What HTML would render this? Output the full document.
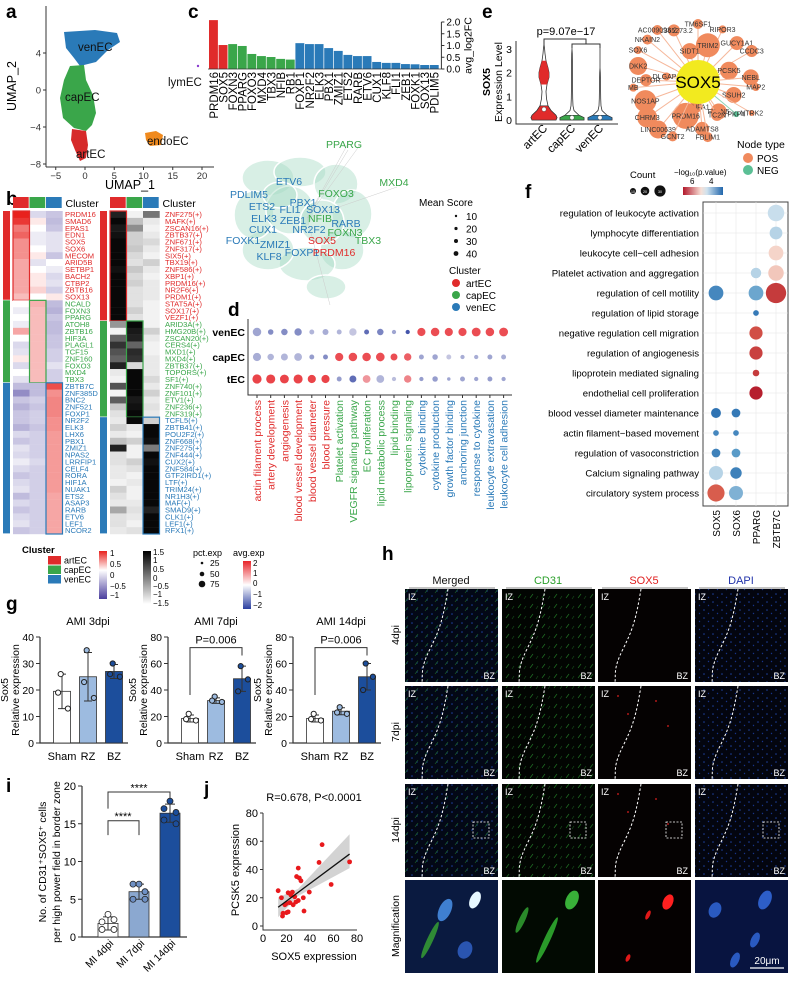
<!DOCTYPE html>
<html><head><meta charset="utf-8"><style>
html,body{margin:0;padding:0;background:#fff}
svg{display:block;font-family:"Liberation Sans",Arial,sans-serif}
</style></head><body>
<svg id="fig" width="790" height="983" viewBox="0 0 790 983" xmlns="http://www.w3.org/2000/svg">
<defs>
<pattern id="pDapi" width="9" height="8" patternUnits="userSpaceOnUse"><rect width="9" height="8" fill="#03050f"/><circle cx="2" cy="2" r="0.8" fill="#1d3f9a"/><circle cx="6.5" cy="5.5" r="0.7" fill="#17338a"/></pattern>
<pattern id="pCd31" width="12" height="10" patternUnits="userSpaceOnUse"><rect width="12" height="10" fill="#020502"/><line x1="2" y1="8" x2="5" y2="4" stroke="#1f6e24" stroke-width="0.7"/><line x1="8" y1="9" x2="10" y2="6" stroke="#18561c" stroke-width="0.6"/></pattern>
<pattern id="pMerge" width="10" height="9" patternUnits="userSpaceOnUse"><rect width="10" height="9" fill="#030816"/><circle cx="2" cy="2" r="0.8" fill="#1d3f9a"/><circle cx="7" cy="6" r="0.7" fill="#1d3f9a"/><line x1="5" y1="8" x2="8" y2="4" stroke="#1f6e24" stroke-width="0.6"/></pattern>
<linearGradient id="gHeat" x1="0" y1="0" x2="0" y2="1"><stop offset="0" stop-color="#e8211d"/><stop offset="0.4" stop-color="#ffffff"/><stop offset="1" stop-color="#4b3f9e"/></linearGradient>
<linearGradient id="gGray" x1="0" y1="0" x2="0" y2="1"><stop offset="0" stop-color="#000"/><stop offset="1" stop-color="#fff"/></linearGradient>
<linearGradient id="gAvg" x1="0" y1="0" x2="0" y2="1"><stop offset="0" stop-color="#e8242a"/><stop offset="0.5" stop-color="#ffffff"/><stop offset="1" stop-color="#2b3fa0"/></linearGradient>
<linearGradient id="gP" x1="0" y1="0" x2="1" y2="0"><stop offset="0" stop-color="#b2182b"/><stop offset="0.45" stop-color="#f7e0d6"/><stop offset="0.6" stop-color="#cfe2ee"/><stop offset="1" stop-color="#2166ac"/></linearGradient>
</defs>

<g font-weight="bold" font-size="19">
<text x="6" y="18">a</text>
<text x="6" y="205">b</text>
<text x="188" y="18">c</text>
<text x="228" y="316">d</text>
<text x="482" y="18">e</text>
<text x="525" y="198">f</text>
<text x="6" y="610">g</text>
<text x="382" y="560">h</text>
<text x="6" y="792">i</text>
<text x="204" y="795">j</text>
</g>

<g id="pa">
<polygon points="64,32 95,30 117,33 120,42 108,50 96,62 80,66 74,58 66,48" fill="#2a7ab8"/>
<polygon points="70,66 84,65 86,80 93,95 96,113 92,125 86,131 74,128 63,118 60,98 64,80" fill="#3aa64a"/>
<polygon points="72,129 86,131 88,145 86,158 80,161 75,150 71,140" fill="#d62a2a"/>
<polygon points="145,133 156,131 163,135 161,145 150,146 146,140" fill="#f08a1e"/>
<circle cx="198" cy="66" r="1.2" fill="#8a3ccf"/>
<g font-size="11.5" fill="#111">
<text x="78" y="51">venEC</text>
<text x="65" y="101">capEC</text>
<text x="147" y="145">endoEC</text>
<text x="76" y="158">artEC</text>
<text x="168" y="86">lymEC</text>
</g>
<line x1="46" y1="6" x2="46" y2="167" stroke="#333"/>
<line x1="46" y1="167" x2="214" y2="167" stroke="#333"/>
<g id="paTicks" font-size="9.5" fill="#333"></g>
<text x="130" y="189" font-size="12.5" text-anchor="middle">UMAP_1</text>
<text transform="translate(16,86) rotate(-90)" font-size="12.5" text-anchor="middle">UMAP_2</text>
</g>

<g id="pb"></g>
<g id="pc"></g>
<g id="pnet"></g>
<g id="pd"></g>
<g id="pe"></g>
<g id="pe2"></g>
<g id="pf"></g>
<g id="pg"></g>
<g id="ph"></g>
<g id="pi"></g>
<g id="pj"></g>
</svg>
<script>
// ---------- data ----------
const umapXTicks=[-5,0,5,10,15,20];
const umapYTicks=[4,0,-4,-8];

const hmLeftGenes=["PRDM16","SMAD6","EPAS1","EDN1","SOX5","SOX6","MECOM","ARID5B","SETBP1","BACH2","CTBP2","ZBTB16","SOX13","NCALD","FOXN3","PPARG","ATOH8","ZBTB16","HIF3A","PLAGL1","TCF15","ZNF160","FOXO3","MXD4","TBX3","ZBTB7C","ZNF385D","BNC2","ZNF521","FOXP1","NR2F2","ELK3","LHX6","PBX1","ZMIZ1","NPAS2","LRRFIP1","CELF4","RORA","HIF1A","NUAK1","ETS2","ASAP3","RARB","ETV6","LEF1","NCOR2"];
const hmLeftGroup=[13,12,22];
const hmLeftArt=[1,0.9,0.6,0.7,0.5,0.5,0.5,0.4,0.4,0.4,0.4,0.4,0.3, 0,-0.1,0,-0.1,0.4,0,-0.2,-0.15,0.1,-0.2,0,-0.15, -0.35,-0.6,-0.3,-0.4,-0.3,-0.3,-0.4,-0.2,-0.3,-0.15,-0.2,-0.1,-0.2,-0.3,-0.2,-0.15,-0.35,-0.2,-0.3,-0.2,-0.15,-0.3];
const hmLeftCap=[-0.2,0.1,0,-0.1,-0.1,0,0.1,-0.15,0,0.1,0.1,0.2,0, 0.35,0.3,0.3,0.3,0.3,0.3,0.3,0.3,0.3,0.3,0.3,0.3, -0.35,-0.35,-0.25,-0.3,-0.25,-0.25,-0.3,-0.25,-0.25,-0.25,-0.25,-0.2,-0.25,-0.25,-0.25,-0.25,-0.25,-0.25,-0.25,-0.25,-0.25,-0.25];
const hmLeftVen=[-0.3,-0.35,-0.3,-0.15,-0.15,-0.15,-0.3,0,-0.1,-0.2,-0.15,-0.25,0.1, -0.35,-0.4,-0.3,-0.35,-0.35,-0.3,-0.3,-0.25,-0.25,-0.15,-0.25,-0.25, 0.8,0.5,0.55,0.55,0.55,0.5,0.5,0.45,0.45,0.45,0.45,0.45,0.45,0.45,0.45,0.45,0.4,0.4,0.4,0.4,0.4,0.4];

const hmRightTFs=["ZNF275(+)","MAFK(+)","ZSCAN16(+)","ZBTB37(+)","ZNF671(+)","ZNF317(+)","SIX5(+)","TBX19(+)","ZNF586(+)","XBP1(+)","PRDM16(+)","NR2F6(+)","PRDM1(+)","STAT5A(+)","SOX17(+)","VEZF1(+)","ARID3A(+)","HMG20B(+)","ZSCAN20(+)","CERS4(+)","MXD1(+)","MXD4(+)","ZBTB37(+)","TOPORS(+)","SF1(+)","ZNF740(+)","ZNF101(+)","ETV1(+)","ZNF236(+)","ZNF319(+)","TCFL5(+)","ZBTB41(+)","POU2F2(+)","ZNF668(+)","ZNF275(+)","ZNF444(+)","CUX2(+)","ZNF584(+)","GTF2IRD1(+)","LTF(+)","TRIM24(+)","NR1H3(+)","MAF(+)","SMAD9(+)","CLK1(+)","LEF1(+)","RFX1(+)"];
const hmRightGroup=[16,14,17];
const hmRightArt=[1.1,1.4,1.2,1.3,1.4,1.4,1.4,1.4,1.3,1.4,1.4,1.4,1.4,1.4,1.4,1.4, -0.3,-1.4,0.3,0.9,0.5,0.3,1.1,-1.3,-1.4,0.5,-1.4,0.4,-0.9,-1.2,-1.3, -1,-1.3,-0.8,1.1,-1.2,-1.2,-1.3,-1.3,-1.4,-1,-1.2,-1.3,-0.5,-1.2,-1.2,-1.3];
const hmRightCap=[-1.4,-0.8,-0.2,-1,-1,-0.9,-1.1,-1.2,-0.9,-1.1,-1,-1.2,-1.2,-1.2,-1,-1.2, 1.4,1.2,1.1,0.3,1,0.9,-1.1,1.4,1.4,1.4,1.4,1.2,1.3,1.4,1.4, -1.3,-1.4,-1,-1.4,-1.4,-1,-1.2,-1.4,-1.3,-1.4,-1.4,-1.3,-1.2,-1.3,-1.4,-1.2];
const hmRightVen=[0.1,-1.3,-1.4,-1.3,-1.1,-1.3,-1.4,-1,-1.3,-1.4,-1.3,-1.3,-1.3,-1.4,-1.4,-1.4, -1.4,-1,-1.3,-1.4,-1.4,-1.3,-1.3,-1.3,-1.1,-1.3,-1,-1.3,-1.2,-1.3,-1, 1.4,1.4,1.3,0,1.4,1.3,1.4,1.4,1.4,1.4,1.4,1.4,1.1,1.4,1.4,1.4];

const tfNames=["PRDM16","SOX5","FOXN3","PPARG","FOXO3","MXD4","TBX3","NFIB","RB1","FOXP1","NR2F2","ELK3","PBX1","ZMIZ1","ETS2","RARB","ETV6","CUX1","KLF8","FLI1","ZEB1","FOXK1","SOX13","PDLIM5"];
const tfLog2FC=[2.08,1.02,1.06,0.98,0.64,0.55,0.51,0.43,0.4,1.1,1.06,1.06,0.89,0.77,0.6,0.55,0.55,0.3,0.26,0.26,0.21,0.2,0.17,0.17];
const tfCluster=["art","art","cap","cap","cap","cap","cap","cap","cap","ven","ven","ven","ven","ven","ven","ven","ven","ven","ven","ven","ven","ven","ven","ven"];
const fcTicks=[0,0.5,1,1.5,2];

const goTerms=["actin filament process","artery development","angiogenesis","blood vessel development","blood vessel diameter","blood pressure","Platelet activation","VEGFR signaling pathway","EC proliferation","lipid metabolic process","lipid binding","lipoprotein signaling","cytokine binding","cytokine production","growth factor binding","anchoring junction","response to cytokine","leukocyte extravasation","leukocyte cell adhesion"];
const goGroup=["art","art","art","art","art","art","cap","cap","cap","cap","cap","cap","ven","ven","ven","ven","ven","ven","ven"];
const dRows=["venEC","capEC","tEC"];
const venAvg=[-0.5,-0.8,-0.8,-0.8,-0.3,-0.4,-0.3,-0.1,-1.2,-0.9,-0.5,-1.5,1,1,1,1,1,1,1];
const venPct=[60,25,35,45,20,30,20,45,20,35,15,15,55,60,55,55,65,60,65];
const capAvg=[-0.4,-0.3,-0.3,-0.3,-0.6,-0.8,1,1,1,1,1,0.8,-0.5,-0.5,-0.1,-0.4,-0.4,-0.5,-0.4];
const capPct=[55,35,40,50,20,20,55,60,60,62,40,45,20,25,20,15,15,20,20];
const tecAvg=[1.1,1.1,1.1,1.1,1.1,1.1,-0.6,-1.2,0.2,-0.3,-0.2,0.4,-0.6,-0.6,-0.5,-0.5,-0.5,-0.6,-0.5];
const tecPct=[70,68,65,68,55,55,20,40,50,50,15,45,15,25,10,20,15,20,15];

const violinGroups=["artEC","capEC","venEC"];
const violinLevels=[0,0.1,0.2,0.4,0.6,0.9,1.2,1.5,1.8,2.0,2.2,2.5,2.8,3.0,3.2];
const violinArt=[12,13,12,7,4,2.5,2,3,5,5,4,2,1,0.6,0];
const violinCap=[12,12,7,2,1,0.7,0.6,0.5,0.5,0.5,0.4,0.4,0.3,0,0];
const violinVen=[12,12,7,2,1,0.7,0.6,0.5,0.4,0.3,0,0,0,0,0];
const violinMedian=[0.45,0.1,0.1];
const violinTicks=[0,1,2,3];

const netNodes=["AL365273.2","TM6SF1","RIPOR3","AC009093.2","TRIM2","GUCY1A1","NKAIN2","SIDT1","CCDC3","SOX6","PCSK5","NEBL","DKK2","DLGAP1","MAP2","SSUH2","MB","DEPTOR","NTRK2","NOS1AP","NDUFA1","FBLN5","PKP4","CHRM3","PRDM16","TC2N","ADAMTS8","LINC00639","GCNT2","FBLIM1"];
const netSize=[6,5,4,5,12,7,5,8,6,4,9,8,9,4,4,8,4,6,3,11,6,8,3,10,13,6,7,9,5,5];
const netType=["POS","POS","POS","POS","POS","POS","POS","POS","POS","POS","POS","POS","POS","POS","POS","POS","POS","POS","POS","POS","POS","POS","NEG","POS","POS","POS","POS","POS","POS","POS"];

const fTerms=["regulation of leukocyte activation","lymphocyte differentiation","leukocyte cell\u2212cell adhesion","Platelet activation and aggregation","regulation of cell motility","regulation of lipid storage","negative regulation cell migration","regulation of angiogenesis","lipoprotein mediated signaling","endothelial cell proliferation","blood vessel diameter maintenance","actin filament\u2212based movement","regulation of vasoconstriction","Calcium signaling pathway","circulatory system process"];
const fGenes=["SOX5","SOX6","PPARG","ZBTB7C"];
const fRow=[0,1,2,3,3,4,4,4,5,6,7,8,9,10,10,11,11,12,12,13,13,14,14];
const fCol=[3,3,3,2,3,0,2,3,2,2,2,2,2,0,1,0,1,0,1,0,1,0,1];
const fCount=[25,15,20,10,22,20,20,38,3,16,16,4,16,9,7,3,3,7,7,18,12,27,18];
const fLogP=[4.4,4.3,5.3,4.3,5.4,3.5,3.9,6.8,3.3,6.5,6.7,6.8,7.2,3.2,3.3,3.5,3.5,3.4,3.8,4.3,3.4,6.3,4.0];

const gGroups=["Sham","RZ","BZ"];
const g3Mean=[19.5,25,27], g3Pts=[[26,13,19],[35,17,23],[30,25,26]];
const g7Mean=[18.5,32,48.5], g7Pts=[[22,17,18],[35,31,32],[58,48,39]];
const g14Mean=[18.5,24,50], g14Pts=[[22,17,18],[27,22,23],[60,50,40]];

const iGroups=["MI 4dpi","MI 7dpi","MI 14dpi"];
const iMean=[1.8,6,16.4];
const iPts=[[3,2,1,1,2.3],[7,7,5,5,6],[18,17,16.5,15.5,15]];
const iTicks=[0,5,10,15,20];

const jSox5=[12.9,15.7,16.6,18.6,20,21.4,21.4,22.9,23.7,25,25.7,27,28,28.6,30,30,30.9,32.3,34.3,34.9,39.4,47.7,50.3,58,73.7,20,17];
const jPcsk5=[25,20,7,15,9.4,10,23.5,16.5,22,24,15,20.7,17,35,18,41,34,32,20,10.6,24,45,57.6,29.4,45.4,16,9];
const jTicks=[0,20,40,60,80];

// ---------- helpers ----------
const NS="http://www.w3.org/2000/svg";
function mk(parent,tag,attrs,txt){const e=document.createElementNS(NS,tag);for(const k in attrs)e.setAttribute(k,attrs[k]);if(txt!==undefined)e.textContent=txt;parent.appendChild(e);return e;}
const CL={art:"#e02b2b",cap:"#3aa64a",ven:"#2a7ab8"};
function lerp(a,b,t){return a.map((v,i)=>Math.round(v+(b[i]-v)*t));}
function rgb(c){return "rgb("+c.join(",")+")";}
function heatCol(v){v=Math.max(-1,Math.min(1,v));return v>=0?rgb(lerp([255,255,255],[232,33,29],v)):rgb(lerp([255,255,255],[75,63,158],-v));}
function grayCol(v){const t=(Math.max(-1.5,Math.min(1.5,v))+1.5)/3;const g=Math.round(250*(1-t));return rgb([g,g,g]);}
function avgCol(v){v=Math.max(-2,Math.min(2,v))/2;return v>=0?rgb(lerp([245,240,245],[232,36,42],Math.min(1,v*0.9+0.35))):rgb(lerp([245,240,245],[43,63,160],Math.min(1,-v*0.9+0.2)));}
function pCol(p){const stops=[[3,[33,102,172]],[3.8,[90,155,200]],[4.4,[200,222,236]],[5.2,[248,224,214]],[6.2,[220,100,80]],[7.3,[178,24,43]]];if(p<=stops[0][0])return rgb(stops[0][1]);for(let i=1;i<stops.length;i++){if(p<=stops[i][0]){const t=(p-stops[i-1][0])/(stops[i][0]-stops[i-1][0]);return rgb(lerp(stops[i-1][1],stops[i][1],t));}}return rgb(stops[stops.length-1][1]);}

// ---------- panel a ticks ----------
(function(){const g=document.getElementById("paTicks");
const ax=u=>85+u*5.85, ay=v=>90-v*9.25;
umapXTicks.forEach(t=>{const l=mk(g,"line",{x1:ax(t),x2:ax(t),y1:167,y2:170,stroke:"#333"});


const s=mk(g,"text",{x:ax(t),y:179,"text-anchor":"middle"},t<0?"\u2212"+(-t):t);

});
umapYTicks.forEach(t=>{const l=mk(g,"line",{x1:43,x2:46,y1:ay(t),y2:ay(t),stroke:"#333"});


const s=mk(g,"text",{x:41,y:ay(t)+3.5,"text-anchor":"end"},t<0?"\u2212"+(-t):t);

});})();

// ---------- panel b heatmaps ----------
(function(){const g=document.getElementById("pb");
const top=211,bot=534,n=47,rh=(bot-top)/n;
function heat(x0,ax0,labX,names,groups,a,c,v,colf,nm){
 const cw=16.5;
 ["art","cap","ven"].forEach((k,i)=>{const r=mk(g,"rect",{x:x0+i*cw,y:197,width:cw-0.8,height:11,fill:CL[k]});
 
 });
 const ct=mk(g,"text",{x:x0+3*cw+3,y:207,"font-size":10.5},"Cluster");
 
 
 let idx=0;
 groups.forEach((cnt,gi)=>{const key=["art","cap","ven"][gi];
  const ab=mk(g,"rect",{x:ax0,y:top+idx*rh,width:7,height:cnt*rh-0.6,fill:CL[key]});
  
  
  for(let r=0;r<cnt;r++,idx++){
   [a,c,v].forEach((arr,ci)=>{const cell=mk(g,"rect",{x:x0+ci*cw,y:top+idx*rh,width:cw+0.2,height:rh+0.2,fill:colf(arr[idx])});
   
   });
   const t=mk(g,"text",{x:labX,y:top+idx*rh+rh-0.8,"font-size":7.6,fill:CL[key]},names[idx]);
   
   
  }
  const bx=mk(g,"rect",{x:x0+gi*cw,y:top+(idx-cnt)*rh,width:cw,height:cnt*rh,fill:"none",stroke:CL[key],"stroke-width":1.2});
  
  
 });
}
heat(13,3,65,hmLeftGenes,hmLeftGroup,hmLeftArt,hmLeftCap,hmLeftVen,heatCol,'gene-heatmap');
heat(110,100,165,hmRightTFs,hmRightGroup,hmRightArt,hmRightCap,hmRightVen,grayCol,'regulon-heatmap');
const L=(el,n)=>{return el;};
L(mk(g,"text",{x:22,y:553,"font-size":9.5,"font-weight":"bold"},"Cluster"),'legend-cluster-title');
["artEC","capEC","venEC"].forEach((s,i)=>{const k=["art","cap","ven"][i];
 const r=mk(g,"rect",{x:48,y:556+i*9.5,width:13,height:8.5,fill:CL[k]});
 
 
 const t=mk(g,"text",{x:64,y:563.5+i*9.5,"font-size":9},s);
 
 });
L(mk(g,"rect",{x:99,y:551,width:8,height:48,fill:"url(#gHeat)"}),'legend-zscore-bar');
[["1",556],["0.5",567],["0",578],["\u22120.5",589],["\u22121",598]].forEach(d=>{const t=mk(g,"text",{x:110,y:d[1],"font-size":8},d[0]);
 
 });
L(mk(g,"rect",{x:143,y:551,width:8,height:53,fill:"url(#gGray)"}),'legend-auc-bar');
[["1.5",555],["1",563],["0.5",572],["0",581],["\u22120.5",589],["\u22121",597],["\u22121.5",606]].forEach(d=>{const t=mk(g,"text",{x:153,y:d[1],"font-size":8},d[0]);
 
 });
L(mk(g,"text",{x:193,y:556,"font-size":9},"pct.exp"),'legend-pct-title');
[[25,1.3,566],[50,2.3,577],[75,3.3,587]].forEach(d=>{const c=mk(g,"circle",{cx:202,cy:d[2]-3,r:d[1],fill:"#111"});
 
 
 const t=mk(g,"text",{x:210,y:d[2],"font-size":8.5},d[0]);
 
 });
L(mk(g,"text",{x:233,y:556,"font-size":9},"avg.exp"),'legend-avg-title');
L(mk(g,"rect",{x:243,y:561,width:8,height:48,fill:"url(#gAvg)"}),'legend-avg-bar');
[["2",566],["1",576],["0",586],["\u22121",597],["\u22122",608]].forEach(d=>{const t=mk(g,"text",{x:253,y:d[1],"font-size":8},d[0]);
 
 });
})();

// ---------- panel c bars ----------
(function(){const g=document.getElementById("pc");
const x0=209,step=9.6,base=69,k=23.5;
tfNames.forEach((n,i)=>{const h=tfLog2FC[i]*k;
 const r=mk(g,"rect",{x:x0+i*step,y:base-h,width:step-0.7,height:h,fill:CL[tfCluster[i]]});
 
 
 const t=mk(g,"text",{transform:`translate(${x0+i*step+step/2+4},${base+3}) rotate(-90)`,"text-anchor":"end","font-size":11.5},n);
 
 });
const ax=x0+tfNames.length*step+2;
const al=mk(g,"line",{x1:ax,x2:ax,y1:base,y2:base-2*k,stroke:"#333"});


fcTicks.forEach(t=>{const y=base-t*k;
 const l=mk(g,"line",{x1:ax,x2:ax+3,y1:y,y2:y,stroke:"#333"});
 
 
 const s=mk(g,"text",{x:ax+5,y:y+3.5,"font-size":10},t.toFixed(1));
 
 });
const tt=mk(g,"text",{transform:`translate(${ax+30},${base-k}) rotate(-90)`,"text-anchor":"middle","font-size":10.5},"avg_log2FC");


const bl=mk(g,"line",{x1:x0-1,x2:ax,y1:base,y2:base,stroke:"#333","stroke-width":0.8});


})();

// ---------- network c ----------
(function(){const g=document.getElementById("pnet");
const cx=307,cy=218;
const petals=[[268,178,26,18],[300,172,26,15],[336,184,22,20],[352,214,20,24],[342,250,22,20],[307,264,28,17],[268,250,26,20],[254,215,20,24],[290,210,24,24],[322,222,22,22],[326,287,20,12],[280,195,17,13]];
petals.forEach(p=>{const e=mk(g,"ellipse",{cx:p[0],cy:p[1],rx:p[2],ry:p[3],fill:"#a8dcc6","fill-opacity":0.45,stroke:"#fff","stroke-width":1.5});
 
 });
[[348,150],[397,187],[330,305],[350,140],[360,145]].forEach(p=>{const l=mk(g,"line",{x1:cx,y1:cy,x2:p[0],y2:p[1],stroke:"#ccc","stroke-width":0.5});
 
 });
const labs=[["PPARG",344,148,"cap"],["MXD4",394,186,"cap"],["ETV6",289,185,"ven"],["PDLIM5",249,198,"ven"],["FOXO3",336,197,"cap"],["ETS2",262,210,"ven"],["PBX1",303,206,"ven"],["SOX13",323,213,"ven"],["FLI1",290,213,"ven"],["ELK3",264,222,"ven"],["NFIB",320,222,"cap"],["ZEB1",293,224,"ven"],["RARB",346,227,"ven"],["CUX1",263,233,"ven"],["NR2F2",309,233,"ven"],["FOXN3",345,236,"cap"],["FOXK1",243,244,"ven"],["SOX5",322,244,"art"],["TBX3",368,244,"cap"],["ZMIZ1",275,248,"ven"],["KLF8",269,260,"ven"],["FOXP1",302,256,"ven"],["PRDM16",334,256,"art"]];
labs.forEach(d=>{const t=mk(g,"text",{x:d[1],y:d[2],"font-size":10.5,fill:CL[d[3]],"text-anchor":"middle"},d[0]);
 
 });
const L=(el,n)=>{};
L(mk(g,"text",{x:419,y:206,"font-size":10},"Mean Score"),'legend-meanscore-title');
[10,20,30,40].forEach((v,i)=>{const c=mk(g,"circle",{cx:456,cy:216+i*12.5,r:1.2+i*0.4,fill:"#111"});
 
 
 const t=mk(g,"text",{x:466,y:220+i*12.5,"font-size":10},v);
 
 });
L(mk(g,"text",{x:449,y:274,"font-size":10},"Cluster"),'legend-network-cluster-title');
["artEC","capEC","venEC"].forEach((s,i)=>{const k=["art","cap","ven"][i];
 const c=mk(g,"circle",{cx:456,cy:283+i*12,r:4,fill:CL[k]});
 
 
 const t=mk(g,"text",{x:466,y:287+i*12,"font-size":10},s);
 
 });
})();

// ---------- panel d dotplot ----------
(function(){const g=document.getElementById("pd");
const x0=257,step=13.7,rowsY=[332,357,379];
const box=mk(g,"polyline",{points:"248,319 248,395 512,395",fill:"none",stroke:"#333"});


const avgs=[venAvg,capAvg,tecAvg],pcts=[venPct,capPct,tecPct];
dRows.forEach((r,ri)=>{const t=mk(g,"text",{x:245,y:rowsY[ri]+4,"font-size":10.5,"font-weight":"bold","text-anchor":"end"},r);
 
 
 goTerms.forEach((c,ci)=>{const d=mk(g,"circle",{cx:x0+ci*step,cy:rowsY[ri],r:Math.sqrt(pcts[ri][ci])*0.55,fill:avgCol(avgs[ri][ci])});
 
 });});
goTerms.forEach((c,ci)=>{const x=x0+ci*step;
 const tk=mk(g,"line",{x1:x,x2:x,y1:395,y2:398,stroke:"#333"});
 
 
 const t=mk(g,"text",{transform:`translate(${x+4},${400}) rotate(-90)`,"text-anchor":"end","font-size":10.5,fill:CL[goGroup[ci]]},c);
 
 });
})();

// ---------- panel e violin ----------
(function(){const g=document.getElementById("pe");
const axX=516,y0=120,k=23.7,cxs=[544,572,600];
const fills=["#e02b2b","#3aa64a","#2a7ab8"];
[violinArt,violinCap,violinVen].forEach((w,vi)=>{let L=[],R=[];
 violinLevels.forEach((lv,i)=>{R.push((cxs[vi]+w[i])+","+(y0-lv*k));L.unshift((cxs[vi]-w[i])+","+(y0-lv*k));});
 const p=mk(g,"polygon",{points:R.concat(L).join(" "),fill:"none",stroke:"#333","stroke-width":0.8});
 
 
 const cut=vi===0?5:3;let R2=[],L2=[];
 violinLevels.slice(0,cut).forEach((lv,i)=>{R2.push((cxs[vi]+w[i])+","+(y0-lv*k));L2.unshift((cxs[vi]-w[i])+","+(y0-lv*k));});
 const f=mk(g,"polygon",{points:R2.concat(L2).join(" "),fill:fills[vi],stroke:"#333","stroke-width":0.6});
 
 
 if(vi===0){const up=[],dn=[];violinLevels.forEach((lv,i)=>{if(lv>=1.4&&lv<=2.6){up.push((cxs[0]+w[i])+","+(y0-lv*k));dn.unshift((cxs[0]-w[i])+","+(y0-lv*k));}});
  const f2=mk(g,"polygon",{points:up.concat(dn).join(" "),fill:fills[0]});
  
  }
 const m=mk(g,"circle",{cx:cxs[vi],cy:y0-violinMedian[vi]*k,r:2.2,fill:"#fff",stroke:"#333","stroke-width":0.4});
 
 
 const t=mk(g,"text",{transform:`translate(${cxs[vi]+4},${129}) rotate(-45)`,"text-anchor":"end","font-size":11.5},violinGroups[vi]);
 
 });
const ax=mk(g,"polyline",{points:`${axX},41 ${axX},124 618,124`,fill:"none",stroke:"#333"});


violinTicks.forEach(t=>{const s=mk(g,"text",{x:axX-4,y:y0-t*k+4,"font-size":10.5,"text-anchor":"end"},t);
 
 });
const yt=mk(g,"text",{transform:"translate(490,82) rotate(-90)","text-anchor":"middle","font-size":10.5,"font-weight":"bold"},"SOX5");


const yt2=mk(g,"text",{transform:"translate(502,82) rotate(-90)","text-anchor":"middle","font-size":10.5},"Expression Level");


const br=mk(g,"path",{d:"M544,46V39H586V44M572,48V44H600V48",fill:"none",stroke:"#333"});


const pt=mk(g,"text",{x:566,y:35,"font-size":11,"text-anchor":"middle"},"p=9.07e\u221217");


})();

// ---------- panel e network ----------
(function(){const g=document.getElementById("pe2");
const cx=698,cy=82;
const ang0=[-115,-90,-65,-128,-75,-45,-140,-105,-30,-152,-20,-5,-165,-170,5,20,-185,-178,30,160,95,55,40,145,110,60,85,130,115,80];
const rad=[57,58,58,66,38,55,66,32,62,68,33,53,62,32,58,38,65,52,62,56,25,36,50,62,36,38,47,62,60,56];
netNodes.forEach((nm,i)=>{const a=ang0[i]*Math.PI/180;const x=cx+rad[i]*Math.cos(a),y=cy+rad[i]*Math.sin(a);
 const l=mk(g,"line",{x1:cx,y1:cy,x2:x,y2:y,stroke:netType[i]==="POS"?"#f6b79a":"#8fd3b5","stroke-width":1});
 
 
 const c=mk(g,"circle",{cx:x,cy:y,r:netSize[i],fill:netType[i]==="POS"?"#f08a5d":"#5bbf95"});
 
 
 const t=mk(g,"text",{x:x,y:y+2.5,"font-size":7,"text-anchor":"middle",fill:"#333"},nm);
 
 });
const hub=mk(g,"circle",{cx:cx,cy:cy,r:22,fill:"#f2ea1f"});


const ht=mk(g,"text",{x:cx,y:cy+6,"font-size":17,"text-anchor":"middle"},"SOX5");


const L=(el,nm)=>{};
L(mk(g,"text",{x:737,y:148,"font-size":10.5},"Node type"),'legend-nodetype-title');
L(mk(g,"circle",{cx:748,cy:158,r:5,fill:"#f08a5d"}),'legend-pos-dot');
L(mk(g,"text",{x:757,y:162,"font-size":10},"POS"),'legend-pos-label');
L(mk(g,"circle",{cx:748,cy:170,r:5,fill:"#5bbf95"}),'legend-neg-dot');
L(mk(g,"text",{x:757,y:174,"font-size":10},"NEG"),'legend-neg-label');
})();

// ---------- panel f ----------
(function(){const g=document.getElementById("pf");
const bx0=703,bx1=788,by0=202,by1=506,rowY=r=>213+r*20,colX=c=>716+c*20;
const fr=mk(g,"rect",{x:bx0,y:by0,width:bx1-bx0,height:by1-by0,fill:"#fff",stroke:"#444"});


fTerms.forEach((t,i)=>{const l=mk(g,"line",{x1:bx0,x2:bx1,y1:rowY(i),y2:rowY(i),stroke:"#e6e6e6","stroke-width":0.6});
 
 
 const s=mk(g,"text",{x:bx0-4,y:rowY(i)+3.5,"font-size":9.6,"text-anchor":"end"},t);
 
 });
fGenes.forEach((gn,i)=>{const l=mk(g,"line",{x1:colX(i),x2:colX(i),y1:by0,y2:by1,stroke:"#e6e6e6","stroke-width":0.6});
 
 
 const s=mk(g,"text",{transform:`translate(${colX(i)+4},${510}) rotate(-90)`,"font-size":10,"text-anchor":"end"},gn);
 
 });
fRow.forEach((r,i)=>{const c=mk(g,"circle",{cx:colX(fCol[i]),cy:rowY(r),r:1.65*Math.sqrt(fCount[i]),fill:pCol(fLogP[i])});
 
 });
const L=(el,nm)=>{};
L(mk(g,"text",{x:630,y:178,"font-size":9.5},"Count"),'legend-count-title');
[[633,3],[645,4.3],[660,5.6]].forEach((d,i)=>{const c=mk(g,"circle",{cx:d[0],cy:191,r:d[1],fill:"#111"});
 
 
 const t=mk(g,"text",{x:d[0],y:193,"font-size":3.5,fill:"#fff","text-anchor":"middle"},[10,20,30][i]);
 
 });
L(mk(g,"text",{x:674,y:175,"font-size":8},"\u2212log\u2081\u2080(p.value)"),'legend-pvalue-title');
L(mk(g,"text",{x:690,y:184,"font-size":8},"6"),'legend-pvalue-tick6');
L(mk(g,"text",{x:709,y:184,"font-size":8},"4"),'legend-pvalue-tick4');
L(mk(g,"rect",{x:683,y:187,width:40,height:8,fill:"url(#gP)"}),'legend-pvalue-bar');
})();

// ---------- panel g ----------
(function(){const g=document.getElementById("pg");
const panels=[{ax:40,max:40,ticks:[0,10,20,30,40],mean:g3Mean,pts:g3Pts,title:"AMI 3dpi",p:null},
 {ax:168,max:80,ticks:[0,20,40,60,80],mean:g7Mean,pts:g7Pts,title:"AMI 7dpi",p:"P=0.006"},
 {ax:293,max:80,ticks:[0,20,40,60,80],mean:g14Mean,pts:g14Pts,title:"AMI 14dpi",p:"P=0.006"}];
const y0=743,ytop=637,fills=["#ffffff","#9dbbe0","#1c4e9c"],pf=["#fff","#9dbbe0","#1c4e9c"];
panels.forEach((P,pi)=>{const sy=v=>y0-(v/P.max)*(y0-ytop);
 const a=mk(g,"polyline",{points:`${P.ax},${ytop} ${P.ax},${y0} ${P.ax+88},${y0}`,fill:"none",stroke:"#333","stroke-width":1.2});
 
 
 P.ticks.forEach(t=>{const l=mk(g,"line",{x1:P.ax-4,x2:P.ax,y1:sy(t),y2:sy(t),stroke:"#333"});
  
  
  const s=mk(g,"text",{x:P.ax-6,y:sy(t)+4,"font-size":10.5,"text-anchor":"end"},t);
  
  });
 gGroups.forEach((gr,i)=>{const cx=P.ax+22+i*26,m=P.mean[i],pts=P.pts[i];
  const b=mk(g,"rect",{x:cx-8.5,y:sy(m),width:17,height:y0-sy(m),fill:fills[i],stroke:"#333","stroke-width":0.8});
  
  
  const mn=pts.reduce((s,v)=>s+v,0)/pts.length,sd=Math.sqrt(pts.reduce((s,v)=>s+(v-mn)**2,0)/(pts.length-1));
  const e=mk(g,"path",{d:`M${cx},${sy(m-sd)}V${sy(m+sd)}M${cx-4},${sy(m+sd)}H${cx+4}M${cx-4},${sy(m-sd)}H${cx+4}`,stroke:"#333",fill:"none"});
  
  
  pts.forEach((v,j)=>{const c=mk(g,"circle",{cx:cx+[-1,3,-3][j%3]*1.3+(j===1?2:0),cy:sy(v),r:2.6,fill:pf[i],stroke:"#222","stroke-width":1});
   
   });
  const t=mk(g,"text",{x:cx,y:760,"font-size":11,"text-anchor":"middle"},gr);
  
  });
 const tt=mk(g,"text",{x:P.ax+48,y:ytop-12,"font-size":11,"text-anchor":"middle"},P.title);
 
 
 const y1=mk(g,"text",{transform:`translate(${P.ax-32},${690}) rotate(-90)`,"font-size":10.5,"text-anchor":"middle"},"Sox5");
 
 
 const y2=mk(g,"text",{transform:`translate(${P.ax-21},${690}) rotate(-90)`,"font-size":10.5,"text-anchor":"middle"},"Relative expression");
 
 
 if(P.p){const br=mk(g,"polyline",{points:`${P.ax+22},${y0-48} ${P.ax+22},${sy(72)} ${P.ax+74},${sy(72)} ${P.ax+74},${sy(66)}`,fill:"none",stroke:"#333"});
  
  
  const pt=mk(g,"text",{x:P.ax+48,y:sy(75),"font-size":11,"text-anchor":"middle"},P.p);
  
  }
});})();

// ---------- panel h ----------
(function(){const g=document.getElementById("ph");
const cols=["Merged","CD31","SOX5","DAPI"],colC=["#111","#2ca02c","#e02020","#2233aa"];
const xs=[405,502,598,695],ys=[589,686,784,880],rows=["4dpi","7dpi","14dpi","Magnification"];
const fills=["url(#pMerge)","url(#pCd31)","#050202","url(#pDapi)"];
cols.forEach((c,i)=>{const t=mk(g,"text",{x:xs[i]+46,y:584,"font-size":11,"text-anchor":"middle",fill:colC[i]},c);
 
 
 const u=mk(g,"line",{x1:xs[i]+4,x2:xs[i]+90,y1:588,y2:588,stroke:"#111","stroke-width":0.6});
 
 });
rows.forEach((r,ri)=>{const t=mk(g,"text",{transform:`translate(${399},${ys[ri]+46}) rotate(-90)`,"font-size":10.5,"text-anchor":"middle"},r);
 
 
 cols.forEach((c,ci)=>{const x=xs[ci],y=ys[ri];
  const im=mk(g,"rect",{x:x,y:y,width:93,height:93,fill:ri===3?["#0a1a40","#020a02","#050101","#081440"][ci]:fills[ci]});
  
  
  if(ri<3){const d=mk(g,"path",{d:`M${x+43},${y} C${x+38},${y+30} ${x+35},${y+40} ${x+25},${y+60} S${x+18},${y+85} ${x+17},${y+93}`,stroke:"#fff","stroke-width":1,"stroke-dasharray":"2.5,2",fill:"none"});
   
   
   const iz=mk(g,"text",{x:x+3,y:y+11,"font-size":9,fill:"#fff"},"IZ");
   
   
   const bz=mk(g,"text",{x:x+90,y:y+90,"font-size":9,fill:"#fff","text-anchor":"end"},"BZ");
   
   
   if(ri===2){const b=mk(g,"rect",{x:x+68,y:y+38,width:16,height:16,fill:"none",stroke:"#fff","stroke-dasharray":"2,1.5","stroke-width":0.8});
    
    }
   if(ci===2&&ri>0){[[20,10],[30,28],[58,15],[70,40]].forEach(p=>{const s=mk(g,"circle",{cx:x+p[0],cy:y+p[1],r:0.9,fill:"#e02020"});
    
    });}
  } else {
   const shapes={0:[["#3f7fd0",40,30,6,12],["#e8f8ff",70,20,5,9],["#2f8a35",25,60,3,20],["#2a55b0",60,70,7,9]],1:[["#38b038",70,20,6,10],["#2a9a2a",45,60,3,25],["#2a8a2a",20,40,3,14]],2:[["#ff2020",70,22,5,8],["#e01818",50,35,2,5],["#e01818",30,78,2,4]],3:[["#2d5ec8",70,20,6,10],["#2a5ac0",20,30,6,8],["#2a5ac0",60,60,4,8],["#2a5ac0",40,80,4,8]]}[ci];
   shapes.forEach(s=>{const e=mk(g,"ellipse",{cx:x+s[1],cy:y+s[2],rx:s[3],ry:s[4],fill:s[0],transform:`rotate(25 ${x+s[1]} ${y+s[2]})`});
    
    });
   if(ci===3){const sb=mk(g,"line",{x1:x+55,x2:x+89,y1:y+88,y2:y+88,stroke:"#fff","stroke-width":1.2});
    
    
    const st=mk(g,"text",{x:x+72,y:y+84,"font-size":10,fill:"#fff","text-anchor":"middle"},"20\u03bcm");
    
    }
  }});});
})();

// ---------- panel i ----------
(function(){const g=document.getElementById("pi");
const ax=82,y0=937,ytop=786,sy=v=>y0-v/20*(y0-ytop);
const fills=["#fff","#8ba8d0","#1c4e9c"];
const a=mk(g,"polyline",{points:`${ax},${ytop} ${ax},${y0} ${ax+105},${y0}`,fill:"none",stroke:"#333","stroke-width":1.2});


iTicks.forEach(t=>{const l=mk(g,"line",{x1:ax-4,x2:ax,y1:sy(t),y2:sy(t),stroke:"#333"});
 
 
 const s=mk(g,"text",{x:ax-6,y:sy(t)+4,"font-size":11,"text-anchor":"end"},t);
 
 });
iGroups.forEach((gr,i)=>{const cx=ax+26+i*31,m=iMean[i],pts=iPts[i];
 const b=mk(g,"rect",{x:cx-10,y:sy(m),width:20,height:y0-sy(m),fill:fills[i],stroke:"#333","stroke-width":0.8});
 
 
 const mn=pts.reduce((s,v)=>s+v,0)/pts.length,sd=Math.sqrt(pts.reduce((s,v)=>s+(v-mn)**2,0)/(pts.length-1));
 const e=mk(g,"path",{d:`M${cx},${sy(m-sd)}V${sy(m+sd)}M${cx-5},${sy(m+sd)}H${cx+5}M${cx-5},${sy(m-sd)}H${cx+5}`,stroke:"#333",fill:"none"});
 
 
 pts.forEach((v,j)=>{const c=mk(g,"circle",{cx:cx+[0,-6,6,-6,6][j],cy:sy(v),r:3,fill:fills[i]==="#fff"?"#fff":(i===1?"#6e90c4":"#1c4e9c"),stroke:"#222","stroke-width":0.8});
  
  });
 const t=mk(g,"text",{transform:`translate(${cx+6},${944}) rotate(-45)`,"font-size":10.5,"text-anchor":"end"},gr);
 
 });
const L=(el,nm)=>{};
L(mk(g,"polyline",{points:`${ax+26},${sy(17)} ${ax+26},${sy(19.2)} ${ax+88},${sy(19.2)} ${ax+88},${sy(18.4)}`,fill:"none",stroke:"#333"}),'sig-bracket-14dpi');
L(mk(g,"text",{x:ax+57,y:sy(19.3),"font-size":11,"text-anchor":"middle"},"****"),'sig-stars-14dpi');
L(mk(g,"polyline",{points:`${ax+26},${sy(13.5)} ${ax+26},${sy(15.4)} ${ax+57},${sy(15.4)} ${ax+57},${sy(13.5)}`,fill:"none",stroke:"#333"}),'sig-bracket-7dpi');
L(mk(g,"text",{x:ax+41,y:sy(15.5),"font-size":11,"text-anchor":"middle"},"****"),'sig-stars-7dpi');
L(mk(g,"text",{transform:"translate(46,862) rotate(-90)","font-size":10.5,"text-anchor":"middle"},"No. of CD31\u207aSOX5\u207a cells"),'count-y-title-1');
L(mk(g,"text",{transform:"translate(60,862) rotate(-90)","font-size":10.5,"text-anchor":"middle"},"per high power field  in border zone"),'count-y-title-2');
})();

// ---------- panel j ----------
(function(){const g=document.getElementById("pj");
const x0=263,x1=357,y0=926,y1=813,sx=v=>x0+v/80*(x1-x0),sy=v=>y0-v/80*(y0-y1);
const n=jSox5.length,mx=jSox5.reduce((a,b)=>a+b)/n,my=jPcsk5.reduce((a,b)=>a+b)/n;
let sxy=0,sxx=0;jSox5.forEach((x,i)=>{sxy+=(x-mx)*(jPcsk5[i]-my);sxx+=(x-mx)**2;});
const b1=sxy/sxx,b0=my-b1*mx,xa=Math.min(...jSox5),xb=Math.max(...jSox5);
const band=mk(g,"polygon",{points:`${sx(xa)},${sy(b0+b1*xa-7)} ${sx(mx)},${sy(my-2.5)} ${sx(xb)},${sy(b0+b1*xb-10)} ${sx(xb)},${sy(b0+b1*xb+14)} ${sx(mx)},${sy(my+2.5)} ${sx(xa)},${sy(b0+b1*xa+7)}`,fill:"#c8c8c8","fill-opacity":0.8});


jSox5.forEach((x,i)=>{const c=mk(g,"circle",{cx:sx(x),cy:sy(jPcsk5[i]),r:2.4,fill:"#e8191c"});
 
 });
const rl=mk(g,"line",{x1:sx(xa),y1:sy(b0+b1*xa),x2:sx(xb),y2:sy(b0+b1*xb),stroke:"#111","stroke-width":1.3});


const a=mk(g,"polyline",{points:`${x0},${y1} ${x0},${y0+4} ${x1},${y0+4}`,fill:"none",stroke:"#333"});


jTicks.forEach(t=>{const s=mk(g,"text",{x:sx(t),y:y0+16,"font-size":11,"text-anchor":"middle"},t);
 
 
 const s2=mk(g,"text",{x:x0-5,y:sy(t)+4,"font-size":11,"text-anchor":"end"},t);
 
 
 const tk=mk(g,"line",{x1:x0-3,x2:x0,y1:sy(t),y2:sy(t),stroke:"#333"});
 
 });
const L=(el,nm)=>{};
L(mk(g,"text",{x:314,y:801,"font-size":11,"text-anchor":"middle"},"R=0.678, P<0.0001"),'scatter-title');
L(mk(g,"text",{x:314,y:960,"font-size":11,"text-anchor":"middle"},"SOX5 expression"),'scatter-x-title');
L(mk(g,"text",{transform:"translate(239,870) rotate(-90)","font-size":11,"text-anchor":"middle"},"PCSK5 expression"),'scatter-y-title');
})();
</script>
</body></html>
